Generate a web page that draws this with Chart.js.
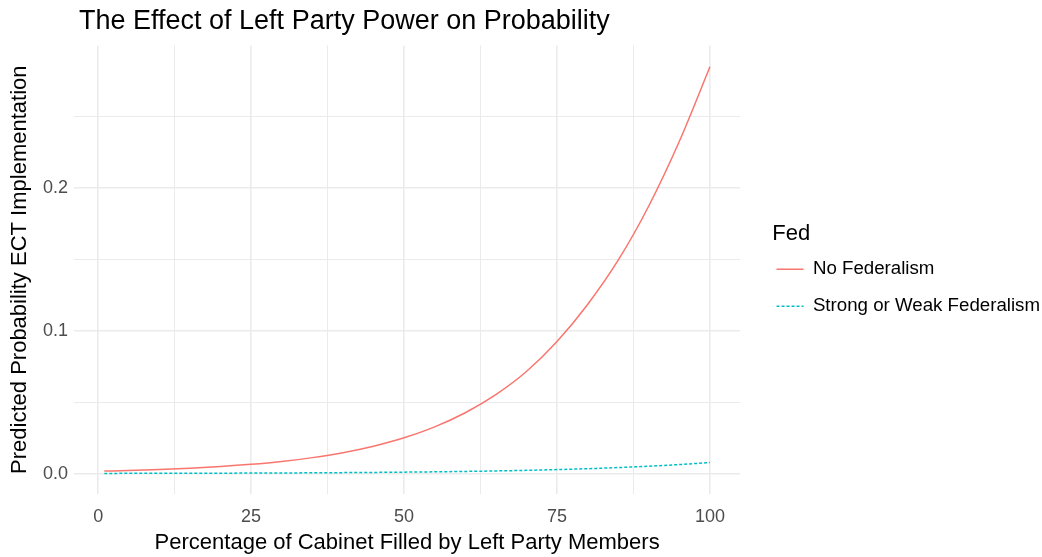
<!DOCTYPE html>
<html>
<head>
<meta charset="utf-8">
<script src="https://cdn.jsdelivr.net/npm/chart.js@4.4.0/dist/chart.umd.min.js"></script>
<style>
  html, body { margin: 0; padding: 0; background: #ffffff; }
  #wrap { width: 1042px; height: 557px; position: relative; }
</style>
</head>
<body>
<div id="wrap"><canvas id="chart"></canvas></div>
<script>
// percentage of cabinet filled by left party members
const cabinetPct = [1, 5, 10, 15, 20, 25, 30, 35, 40, 45, 50, 55, 60, 65, 70, 75, 80, 85, 90, 95, 100];

// predicted probability
const noFederalism = [0.00175, 0.00218, 0.00287, 0.00377, 0.00495, 0.0065, 0.00852, 0.01118, 0.01465, 0.01919,
    0.02509, 0.03273, 0.04261, 0.05531, 0.0715, 0.0925, 0.1185, 0.1495, 0.1875, 0.2328, 0.285];
const strongOrWeak = [0.00014, 0.00016, 0.0002, 0.00024, 0.00029, 0.00036, 0.00044, 0.00054, 0.00067, 0.00082,
    0.00101, 0.00124, 0.00152, 0.00186, 0.00228, 0.0028, 0.00343, 0.00421, 0.00517, 0.00633, 0.00777];

const seriesNames = ["No Federalism", "Strong or Weak Federalism"];
const xTicks = [0, 12.5, 25, 37.5, 50, 62.5, 75, 87.5, 100];
const yTicks = [0, 0.05, 0.1, 0.15, 0.2, 0.25];
const xLabels = [0, 25, 50, 75, 100];
const yLabels = [0, 0.1, 0.2];

const FONT = "'Liberation Sans', Arial, sans-serif";

function toPoints(ys) {
    return cabinetPct.map((x, i) => ({ x: x, y: ys[i] }));
}

function isLabelled(list, v) {
    return list.some(l => Math.abs(l - v) < 1e-9);
}

// put the plot title flush with the panel, like ggplot does
const titleToPanel = {
    id: "titleToPanel",
    afterLayout(chart) {
        if (chart.titleBlock) {
            chart.titleBlock.left = chart.chartArea.left + 5;
        }
    }
};

// the legend title sits over the keys in ggplot, nudge it right a bit
const legendTitleNudge = {
    id: "legendTitleNudge",
    beforeDraw(chart) {
        const lg = chart.legend;
        if (!lg || lg._nudged) return;
        ["drawTitle", "_drawTitle"].forEach(name => {
            const orig = lg[name];
            if (typeof orig !== "function") return;
            lg[name] = function () {
                const l = this.left;
                this.left = l + 14;
                orig.apply(this, arguments);
                this.left = l;
            };
        });
        lg._nudged = true;
    }
};

const ctx = document.getElementById("chart").getContext("2d");
new Chart(ctx, {
    type: "line",
    data: {
        datasets: [{
            label: seriesNames[0],
            data: toPoints(noFederalism),
            borderColor: "#F8766D",
            backgroundColor: "#F8766D",
            borderWidth: 1.5,
            pointRadius: 0,
            cubicInterpolationMode: "monotone",
            pointStyle: "line"
        }, {
            label: seriesNames[1],
            data: toPoints(strongOrWeak),
            borderColor: "#00BFC4",
            backgroundColor: "#00BFC4",
            borderWidth: 1.5,
            borderDash: [3, 2],
            pointRadius: 0,
            cubicInterpolationMode: "monotone",
            pointStyle: "line"
        }]
    },
    options: {
        responsive: true,
        maintainAspectRatio: false,
        animation: false,
        layout: { padding: { left: 0, right: -8, top: 0, bottom: 0 } },
        plugins: {
            title: {
                display: true,
                text: "The Effect of Left Party Power on Probability",
                align: "start",
                color: "#000000",
                font: { family: FONT, size: 27, weight: "normal" },
                padding: { top: 5, bottom: 8 }
            },
            legend: {
                position: "right",
                align: "center",
                maxWidth: 340,
                title: {
                    display: true,
                    text: "Fed",
                    position: "start",
                    color: "#000000",
                    font: { family: FONT, size: 22 },
                    padding: { top: 0, bottom: -8 }
                },
                labels: {
                    usePointStyle: true,
                    pointStyleWidth: 27,
                    padding: 18.3,
                    color: "#000000",
                    font: { family: FONT, size: 18.7 },
                    generateLabels: (chart) => {
                        const items = Chart.defaults.plugins.legend.labels.generateLabels(chart);
                        items.forEach(item => {
                            const ds = chart.data.datasets[item.datasetIndex];
                            item.lineDash = ds.borderDash || [];
                            item.lineWidth = ds.borderWidth;
                        });
                        return items;
                    }
                }
            },
            tooltip: { enabled: false }
        },
        scales: {
            x: {
                type: "linear",
                min: -3.95,
                max: 104.95,
                afterBuildTicks: (scale) => { scale.ticks = xTicks.map(v => ({ value: v })); },
                afterFit: (scale) => { scale.height = 63; },
                ticks: {
                    autoSkip: false,
                    maxRotation: 0,
                    padding: 12,
                    color: "#4D4D4D",
                    font: { family: FONT, size: 18 },
                    callback: (v) => isLabelled(xLabels, v) ? String(v) : ""
                },
                grid: {
                    color: "#EBEBEB",
                    lineWidth: (c) => (c.tick && isLabelled(xLabels, c.tick.value)) ? 1.6 : 1,
                    drawTicks: false
                },
                border: { display: false },
                title: {
                    display: true,
                    text: "Percentage of Cabinet Filled by Left Party Members",
                    color: "#000000",
                    font: { family: FONT, size: 22 },
                    padding: { top: 2, bottom: 1 }
                }
            },
            y: {
                type: "linear",
                min: -0.0143,
                max: 0.30,
                afterBuildTicks: (scale) => { scale.ticks = yTicks.map(v => ({ value: v })); },
                afterFit: (scale) => { scale.width = 74; },
                ticks: {
                    autoSkip: false,
                    padding: 6,
                    color: "#4D4D4D",
                    font: { family: FONT, size: 18 },
                    callback: (v) => isLabelled(yLabels, v) ? v.toFixed(1) : ""
                },
                grid: {
                    color: "#EBEBEB",
                    lineWidth: (c) => (c.tick && isLabelled(yLabels, c.tick.value)) ? 1.6 : 1,
                    drawTicks: false
                },
                border: { display: false },
                title: {
                    display: true,
                    text: "Predicted Probability ECT Implementation",
                    color: "#000000",
                    font: { family: FONT, size: 22 },
                    padding: { top: 7, bottom: 9 }
                }
            },
            // empty spacer between the panel and the legend
            gap: {
                type: "linear",
                position: "right",
                display: true,
                grid: { display: false },
                ticks: { display: false },
                border: { display: false },
                afterFit: (scale) => { scale.width = 18; }
            }
        }
    },
    plugins: [titleToPanel, legendTitleNudge]
});
</script>
</body>
</html>
